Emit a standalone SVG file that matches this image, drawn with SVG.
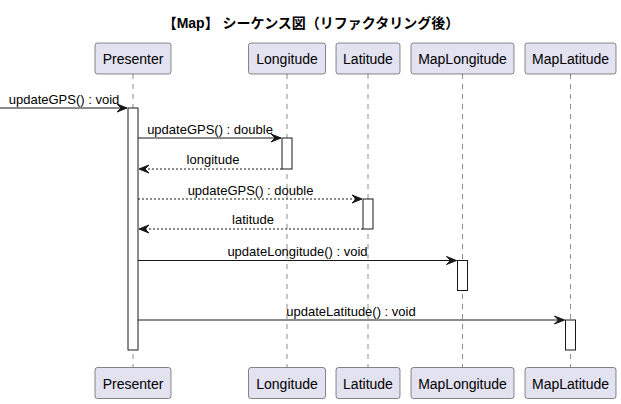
<svg xmlns="http://www.w3.org/2000/svg" width="621" height="404" viewBox="0 0 621 404">
<style>
  .box{fill:#E2E2F0;stroke:#181818;stroke-width:0.5}
  .pt{font-family:"Liberation Sans",Arial,sans-serif;font-size:14px;fill:#000;text-anchor:middle}
  .life{stroke:#181818;stroke-width:0.5;stroke-dasharray:5,5;fill:none}
  .act{fill:#FFFFFF;stroke:#181818;stroke-width:1}
  .msg{stroke:#181818;stroke-width:1;fill:none}
  .dash{stroke-dasharray:2,2}
  .head{fill:#181818;stroke:#181818;stroke-width:1}
  .ml{font-family:"Liberation Sans",Arial,sans-serif;font-size:13px;fill:#000;text-anchor:middle}
  .title{font-family:"Liberation Sans","Noto Sans CJK JP",sans-serif;font-size:14px;font-weight:bold;fill:#000;text-anchor:middle}
</style>
<rect width="621" height="404" fill="#FFFFFF"/>
<text class="title" x="311" y="28">【Map】 シーケンス図（リファクタリング後）</text>

<g id="lifelines">
  <line class="life" x1="133" y1="74" x2="133" y2="367.5"/>
  <line class="life" x1="287" y1="74" x2="287" y2="367.5"/>
  <line class="life" x1="368" y1="74" x2="368" y2="367.5"/>
  <line class="life" x1="462.5" y1="74" x2="462.5" y2="367.5"/>
  <line class="life" x1="570.5" y1="74" x2="570.5" y2="367.5"/>
</g>

<g id="Presenter">
  <rect class="box" x="95" y="43" width="76" height="31" rx="2.5"/>
  <text class="pt" x="133" y="64">Presenter</text>
  <rect class="act" x="128" y="108" width="10" height="242"/>
  <rect class="box" x="95" y="367.5" width="76" height="31" rx="2.5"/>
  <text class="pt" x="133" y="388.5">Presenter</text>
</g>
<g id="Longitude">
  <rect class="box" x="248.5" y="43" width="77" height="31" rx="2.5"/>
  <text class="pt" x="287" y="64">Longitude</text>
  <rect class="act" x="282" y="138" width="10" height="31"/>
  <rect class="box" x="248.5" y="367.5" width="77" height="31" rx="2.5"/>
  <text class="pt" x="287" y="388.5">Longitude</text>
</g>
<g id="Latitude">
  <rect class="box" x="336" y="43" width="64" height="31" rx="2.5"/>
  <text class="pt" x="368" y="64">Latitude</text>
  <rect class="act" x="363" y="199" width="10" height="30"/>
  <rect class="box" x="336" y="367.5" width="64" height="31" rx="2.5"/>
  <text class="pt" x="368" y="388.5">Latitude</text>
</g>
<g id="MapLongitude">
  <rect class="box" x="411" y="43" width="103" height="31" rx="2.5"/>
  <text class="pt" x="462.5" y="64">MapLongitude</text>
  <rect class="act" x="457.5" y="260.5" width="10" height="30"/>
  <rect class="box" x="411" y="367.5" width="103" height="31" rx="2.5"/>
  <text class="pt" x="462.5" y="388.5">MapLongitude</text>
</g>
<g id="MapLatitude">
  <rect class="box" x="525" y="43" width="91" height="31" rx="2.5"/>
  <text class="pt" x="570.5" y="64">MapLatitude</text>
  <rect class="act" x="565.5" y="320" width="10" height="30"/>
  <rect class="box" x="525" y="367.5" width="91" height="31" rx="2.5"/>
  <text class="pt" x="570.5" y="388.5">MapLatitude</text>
</g>

<g id="connectors">
  <line class="msg" x1="0" y1="108" x2="127" y2="108"/>
  <polygon class="head" points="117,104 127,108 117,112 121,108"/>
  <text class="ml" x="64" y="104">updateGPS() : void</text>

  <line class="msg" x1="138" y1="138" x2="281" y2="138"/>
  <polygon class="head" points="271,134 281,138 271,142 275,138"/>
  <text class="ml" x="210" y="134">updateGPS() : double</text>

  <line class="msg dash" x1="282" y1="169" x2="139" y2="169"/>
  <polygon class="head" points="149,165 139,169 149,173 145,169"/>
  <text class="ml" x="213" y="164">longitude</text>

  <line class="msg dash" x1="138" y1="199" x2="362" y2="199"/>
  <polygon class="head" points="352,195 362,199 352,203 356,199"/>
  <text class="ml" x="250.5" y="195">updateGPS() : double</text>

  <line class="msg dash" x1="363" y1="229" x2="139" y2="229"/>
  <polygon class="head" points="149,225 139,229 149,233 145,229"/>
  <text class="ml" x="253" y="224">latitude</text>

  <line class="msg" x1="138" y1="260.5" x2="456.5" y2="260.5"/>
  <polygon class="head" points="446.5,256.5 456.5,260.5 446.5,264.5 450.5,260.5"/>
  <text class="ml" x="297.5" y="256">updateLongitude() : void</text>

  <line class="msg" x1="138" y1="320" x2="564.5" y2="320"/>
  <polygon class="head" points="554.5,316 564.5,320 554.5,324 558.5,320"/>
  <text class="ml" x="351" y="316">updateLatitude() : void</text>
</g>
</svg>
